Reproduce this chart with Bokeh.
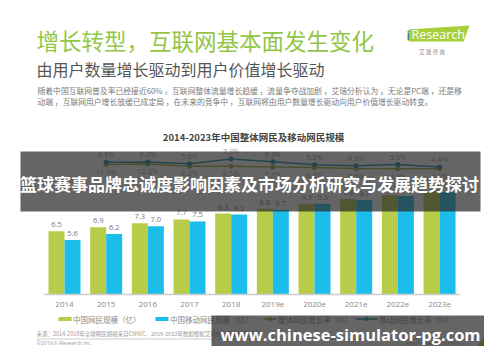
from bokeh.plotting import figure
from bokeh.models import Range1d
from bokeh.core.properties import value
from bokeh.embed import file_html
from bokeh.resources import INLINE

# ---------------- data ----------------
years = ["2014", "2015", "2016", "2017", "2018", "2019e", "2020e", "2021e", "2022e", "2023e"]
netizens = [6.5, 6.9, 7.3, 7.7, 8.3, 8.8, 9.3, 9.8, 10.2, 10.6]          # 中国网民规模（亿）
mobile_netizens = [5.6, 6.2, 7.0, 7.5, 8.2, 8.7, 9.3, 9.7, 10.1, 10.5]   # 中国移动网民规模（亿）
growth_years = years[1:]
netizen_growth = [11.3, 12.2, 8.2, 8.5, 7.1, 6.3, 4.5, 4.3, 4.2]        # 整体网民增长率（%）
mobile_growth = [6.1, 6.2, 5.6, 7.3, 6.3, 5.2, 4.9, 5.3, 4.4]           # 移动网民增长率（%）

title = "增长转型，互联网基本面发生变化"
subtitle = "由用户数量增长驱动到用户价值增长驱动"
body1 = "随着中国互联网普及率已经接近60% ，互联网整体流量增长趋缓 ，流量争夺战加剧 ，艾瑞分析认为 ，无论是PC端 ，还是移"
body2 = "动端 ，互联网用户增长放缓已成定局 ，在未来的竞争中 ，互联网将由用户数量增长驱动向用户价值增长驱动转变。"
chart_title = "2014-2023年中国整体网民及移动网民规模"
legend_labels = ["中国网民规模（亿）", "中国移动网民规模（亿）", "整体网民增长率（%）", "移动网民增长率（%）"]
source = "来源：2014-2018年全球网民规模来自CNNIC，2019-2023年数据根据艾瑞统计预测模型核算。"
copyright_text = "©2019.6 iResearch Inc."
site_text = "www.iresearch.com.cn"
banner_text = "篮球赛事品牌忠诚度影响因素及市场分析研究与发展趋势探讨"
watermark = "www.chinese-simulator-pg.com"

# ---------------- layout ----------------
W, H = 484, 346
SX, SY = 41.67, 9.75       # px per category / px per 亿
X0 = 64                    # centre of first category (px from left)
B0 = H - 294               # baseline, px from bottom

CJK = "Noto Sans CJK SC"
GREEN = "#B7CC48"
BLUE = "#1CBDEB"
OLIVE = "#A3AD36"
TEAL = "#178DA2"


def PX(px):
    return (px - X0) / SX


def PY(py):
    return ((H - py) - B0) / SY


p = figure(width=W, height=H, output_backend="svg", toolbar_location=None,
           x_axis_type=None, y_axis_type=None, min_border=0,
           x_range=Range1d(PX(0), PX(W)), y_range=Range1d(PY(H), PY(0)))
p.grid.visible = False
p.outline_line_color = None
p.background_fill_color = "white"
p.border_fill_color = "white"


def rng(v_ref, py_ref, px_per_unit):
    fb = H - py_ref
    return Range1d(v_ref - fb / px_per_unit, v_ref + (H - fb) / px_per_unit)


# the two growth lines sit on their own hidden scales (as in the source chart)
p.extra_y_ranges = {"mob": rng(5.7, 162.96, 2.72), "net": rng(11.3, 164.0, 0.6)}


def txt(px, py, s, size, color, align="left", bold=False, font=CJK, baseline="middle"):
    p.text(x=[PX(px)], y=[PY(py)], text=[s], text_font=value(font),
           text_font_size=value(f"{size}px"), text_color=color, text_align=align,
           text_baseline=baseline, text_font_style="bold" if bold else "normal")


# ---------------- header ----------------
txt(36, 39, title, 22.5, "#92C646")
txt(36, 68, subtitle, 16, "#555555")
txt(37, 90, body1, 7.8, "#7a7a7a")
txt(37, 101, body2, 7.8, "#7a7a7a")

# logo
p.patch(x=[PX(408), PX(469), PX(463), PX(408)], y=[PY(29), PY(25), PY(41), PY(41)],
        fill_color="#A7CF3A", line_color=None)
txt(406, 34, "i", 13, "#1E4E7A", font="Open Sans")
txt(411, 34, "Research", 12.5, "white", font="Open Sans")
txt(437, 51, "艾    瑞    咨    询", 5.5, "#888888", align="center")

# chart title
txt(253, 136, chart_title, 9.5, "#444444", align="center", bold=True)

# ---------------- bars ----------------
idx = list(range(len(years)))
bw = 16 / SX
gx = [i - bw / 2 for i in idx]
bx = [i + bw / 2 for i in idx]
p.vbar(x=gx, top=netizens, width=bw, bottom=0, fill_color=GREEN, line_color=None)
p.vbar(x=bx, top=mobile_netizens, width=bw, bottom=0, fill_color=BLUE, line_color=None)
p.text(x=gx, y=netizens, text=[f"{v:.1f}" for v in netizens], y_offset=-4,
       text_font=value("Open Sans"), text_font_size=value("7.5px"), text_color="#777777",
       text_align="center", text_baseline="bottom")
p.text(x=bx, y=mobile_netizens, text=[f"{v:.1f}" for v in mobile_netizens], y_offset=-4,
       text_font=value("Open Sans"), text_font_size=value("7.5px"), text_color="#777777",
       text_align="center", text_baseline="bottom")

# baseline + year labels
p.line(x=[PX(43), PX(459)], y=[0, 0], line_color="#cccccc", line_width=1.5)
p.text(x=idx, y=[PY(304)] * len(idx), text=years, text_font=value("Open Sans"),
       text_font_size=value("8px"), text_color="#888888", text_align="center",
       text_baseline="middle")

# ---------------- growth lines ----------------
gidx = idx[1:]
p.line(x=gidx, y=netizen_growth, y_range_name="net", line_color=OLIVE, line_width=1.5)
p.scatter(x=gidx, y=netizen_growth, y_range_name="net", size=5, fill_color=OLIVE, line_color=None)
p.text(x=gidx, y=netizen_growth, y_range_name="net", text=[f"{v}%" for v in netizen_growth],
       y_offset=2, text_font=value("Open Sans"), text_font_size=value("7.5px"),
       text_color="#999999", text_align="center", text_baseline="top")
p.line(x=gidx, y=mobile_growth, y_range_name="mob", line_color=TEAL, line_width=1.5)
p.scatter(x=gidx, y=mobile_growth, y_range_name="mob", size=5, fill_color=TEAL, line_color=None)
p.text(x=gidx, y=mobile_growth, y_range_name="mob", text=[f"{v}%" for v in mobile_growth],
       y_offset=-3, text_font=value("Open Sans"), text_font_size=value("7.5px"),
       text_color="#999999", text_align="center", text_baseline="bottom")

# ---------------- legend ----------------
LY = 318.5
p.quad(left=[PX(58)], right=[PX(71)], top=[PY(LY - 2)], bottom=[PY(LY + 2)], fill_color=GREEN, line_color=None)
txt(72.5, LY, legend_labels[0], 7.5, "#888888")
p.quad(left=[PX(155)], right=[PX(168)], top=[PY(LY - 2)], bottom=[PY(LY + 2)], fill_color=BLUE, line_color=None)
txt(169.5, LY, legend_labels[1], 7.5, "#888888")
p.line(x=[PX(263), PX(276)], y=[PY(LY)] * 2, line_color=OLIVE, line_width=1.5)
p.scatter(x=[PX(269.5)], y=[PY(LY)], size=4, fill_color=OLIVE, line_color=None)
txt(277.5, LY, legend_labels[2], 7.5, "#888888")
p.line(x=[PX(355), PX(377)], y=[PY(LY)] * 2, line_color=TEAL, line_width=1.5)
p.scatter(x=[PX(366)], y=[PY(LY)], size=4, fill_color=TEAL, line_color=None)
txt(378.5, LY, legend_labels[3], 7.5, "#888888")

# ---------------- footer (compressed to fit the canvas) ----------------
txt(36, 333.5, source, 5.5, "#9a9a9a")
p.line(x=[PX(36), PX(470)], y=[PY(338.5)] * 2, line_color="#cccccc", line_width=1)
txt(36, 342, copyright_text, 5.2, "#9a9a9a", font="Open Sans")
txt(460, 342, site_text, 5.2, "#9a9a9a", align="right", font="Open Sans")
p.patch(x=[PX(462), PX(500), PX(500)], y=[PY(362), PY(362), PY(318)], fill_color="#A7CF3A", line_color=None)

# ---------------- overlays ----------------
p.quad(left=[PX(20)], right=[PX(480)], top=[PY(151)], bottom=[PY(211)],
       fill_color="#2a2a2a", fill_alpha=0.72, line_color=None)
txt(249, 183, banner_text, 17, "white", align="center", bold=True)
p.quad(left=[PX(211)], right=[PX(490)], top=[PY(315)], bottom=[PY(355)],
       fill_color="#2a2a2a", fill_alpha=0.72, line_color=None)
txt(350, 333.5, watermark, 16.5, "white", align="center", bold=True, font="Open Sans")

open("out.html", "w").write(file_html(p, INLINE))
